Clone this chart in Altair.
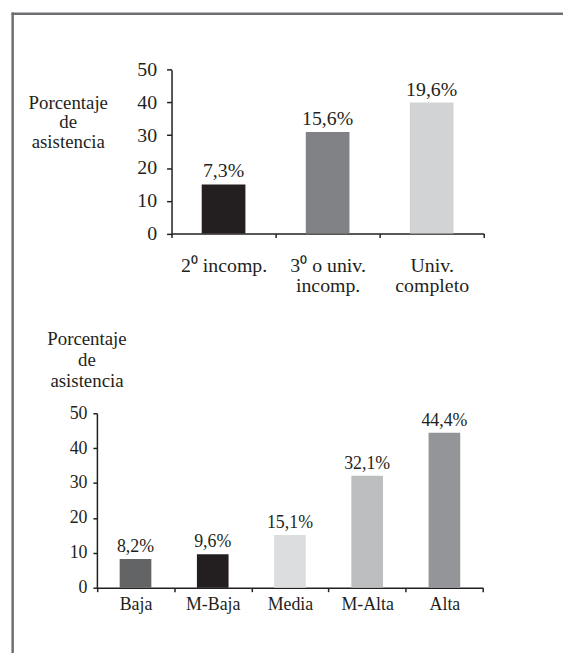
import altair as alt
import pandas as pd

# ---- data ----
top_cats = ["2⁰ incomp.", "3⁰ o univ.|incomp.", "Univ.|completo"]
top_heights = [15, 31, 40]
top_labels = ["7,3%", "15,6%", "19,6%"]
top_colors = ["#231f20", "#808285", "#d1d3d4"]

bot_cats = ["Baja", "M-Baja", "Media", "M-Alta", "Alta"]
bot_values = [8.2, 9.6, 15.1, 32.1, 44.4]
bot_labels = ["8,2%", "9,6%", "15,1%", "32,1%", "44,4%"]
bot_colors = ["#636466", "#231f20", "#dcddde", "#bcbec0", "#939598"]

y_ticks = [0, 10, 20, 30, 40, 50]
title_lines = ["Porcentaje", "de", "asistencia"]

FONT = "Liberation Serif"
INK = "#231f20"
FRAME = "#6d6e71"

# whole drawing area (page minus the 8px margin)
W, H = 560, 648

# panel placement inside the drawing area
TOP_X = [165, 480]
TOP_Y = [224.7, 59.3]
BOT_X = [89.7, 479.3]
BOT_Y = [582, 406]

one = pd.DataFrame({"k": [0]})

# ---- top panel ----
top_df = pd.DataFrame({"cat": top_cats, "h": top_heights, "lab": top_labels})

tx_axis = alt.Axis(title=None, orient="bottom", offset=TOP_Y[0] - H, labelAngle=0,
                   tickBand="extent", tickSize=4, labelPadding=18, labelFontSize=20,
                   labelLineHeight=20, labelBaseline="top", labelOverlap=False,
                   labelExpr="split(datum.label, '|')")
ty_axis = alt.Axis(orient="left", offset=-TOP_X[0], values=y_ticks, grid=False,
                   tickSize=5, labelPadding=10, labelFontSize=20, labelOverlap=False,
                   title=title_lines, titleAngle=0, titleX=-104.7, titleY=98,
                   titleAlign="center", titleBaseline="alphabetic", titleLineHeight=20,
                   titleFontSize=19, titleFontWeight="normal")

top_xs = alt.Scale(paddingInner=0, paddingOuter=0, range=TOP_X)
top_ys = alt.Scale(domain=[0, 50], range=TOP_Y)
top_x = alt.X("cat:N", sort=top_cats, scale=top_xs, axis=tx_axis)
top_y = alt.Y("h:Q", scale=top_ys, axis=ty_axis)

top_bars = alt.Chart(top_df).mark_bar(width=alt.RelativeBandSize(0.42)).encode(
    x=top_x, y=top_y,
    color=alt.Color("cat:N", scale=alt.Scale(domain=top_cats, range=top_colors), legend=None),
)
top_text = alt.Chart(top_df).mark_text(dy=-7, baseline="alphabetic", fontSize=20,
                                       font=FONT, color=INK).encode(
    x=top_x, y=top_y, text="lab:N")
top = alt.layer(top_bars, top_text)

# ---- bottom panel ----
bot_df = pd.DataFrame({"cat": bot_cats, "v": bot_values, "lab": bot_labels})

bx_axis = alt.Axis(title=None, orient="bottom", offset=BOT_Y[0] - H, labelAngle=0,
                   tickBand="extent", tickSize=4, labelPadding=4, labelFontSize=18,
                   labelBaseline="top", labelOverlap=False)
by_axis = alt.Axis(orient="left", offset=-BOT_X[0], values=y_ticks, grid=False,
                   tickSize=4, labelPadding=6, labelFontSize=18, labelOverlap=False,
                   title=title_lines, titleAngle=0, titleX=-10.5, titleY=336.3,
                   titleAlign="center", titleBaseline="alphabetic", titleLineHeight=21.5,
                   titleFontSize=19, titleFontWeight="normal")

bot_xs = alt.Scale(paddingInner=0, paddingOuter=0, range=BOT_X)
bot_ys = alt.Scale(domain=[0, 50], range=BOT_Y)
bot_x = alt.X("cat:N", sort=bot_cats, scale=bot_xs, axis=bx_axis)
bot_y = alt.Y("v:Q", scale=bot_ys, axis=by_axis)

bot_bars = alt.Chart(bot_df).mark_bar(width=alt.RelativeBandSize(0.41)).encode(
    x=bot_x, y=bot_y,
    color=alt.Color("cat:N", scale=alt.Scale(domain=bot_cats, range=bot_colors), legend=None),
)
bot_text = alt.Chart(bot_df).mark_text(dy=-7, baseline="alphabetic", fontSize=18,
                                       font=FONT, color=INK).encode(
    x=bot_x, y=bot_y, text="lab:N")
bottom = alt.layer(bot_bars, bot_text)

# ---- frame (top and left edges of the box) ----
frame_h = alt.Chart(one).mark_rule(color=FRAME, strokeWidth=2.5).encode(
    x=alt.value(3.5), x2=alt.value(W), y=alt.value(2.8))
frame_v = alt.Chart(one).mark_rule(color=FRAME, strokeWidth=2.5).encode(
    x=alt.value(4.7), y=alt.value(1.6), y2=alt.value(H))

chart = alt.layer(top, bottom, frame_h, frame_v).resolve_scale(
    x="independent", y="independent", color="independent"
).resolve_axis(x="independent", y="independent").properties(
    width=W, height=H,
    autosize=alt.AutoSizeParams(type="none"),
    padding={"left": 0, "top": 0, "right": 0, "bottom": 0},
).configure_view(stroke=None).configure_axis(
    labelFont=FONT, titleFont=FONT, labelColor=INK, titleColor=INK,
    domainColor=INK, tickColor=INK, domainWidth=1.5, tickWidth=1.5,
)

chart.save("out.html", embed_options={"renderer": "svg", "actions": False})
